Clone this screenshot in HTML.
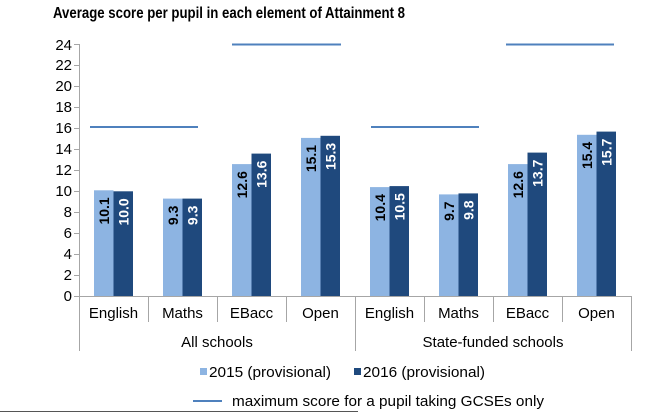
<!DOCTYPE html>
<html><head><meta charset="utf-8"><style>html,body{margin:0;padding:0;background:#fff}svg{display:block}text{font-family:"Liberation Sans",Arial,sans-serif}</style></head>
<body>
<svg width="662" height="413" viewBox="0 0 662 413" xmlns="http://www.w3.org/2000/svg">
<text x="53" y="18" font-size="16" font-weight="bold" fill="#000" textLength="352" lengthAdjust="spacingAndGlyphs">Average score per pupil in each element of Attainment 8</text>
<g font-size="15" fill="#000" text-anchor="end">
<text x="72" y="301">0</text><text x="72" y="280">2</text><text x="72" y="259">4</text><text x="72" y="238">6</text><text x="72" y="217">8</text><text x="72" y="196">10</text><text x="72" y="175">12</text><text x="72" y="154">14</text><text x="72" y="133">16</text><text x="72" y="112">18</text><text x="72" y="91">20</text><text x="72" y="70">22</text><text x="72" y="50">24</text>
</g>
<g stroke="#a6a6a6" stroke-width="1">
<line x1="79.5" y1="44" x2="79.5" y2="351"/>
<line x1="74" y1="296.5" x2="632" y2="296.5"/>
<line x1="74" y1="275.5" x2="79" y2="275.5"/><line x1="74" y1="254.5" x2="79" y2="254.5"/><line x1="74" y1="233.5" x2="79" y2="233.5"/><line x1="74" y1="212.5" x2="79" y2="212.5"/><line x1="74" y1="191.5" x2="79" y2="191.5"/><line x1="74" y1="170.5" x2="79" y2="170.5"/><line x1="74" y1="149.5" x2="79" y2="149.5"/><line x1="74" y1="128.5" x2="79" y2="128.5"/><line x1="74" y1="107.5" x2="79" y2="107.5"/><line x1="74" y1="86.5" x2="79" y2="86.5"/><line x1="74" y1="65.5" x2="79" y2="65.5"/><line x1="74" y1="44.5" x2="79" y2="44.5"/>
<line x1="148.5" y1="296" x2="148.5" y2="322"/><line x1="217.5" y1="296" x2="217.5" y2="322"/><line x1="286.5" y1="296" x2="286.5" y2="322"/>
<line x1="355.5" y1="296" x2="355.5" y2="351"/>
<line x1="424.5" y1="296" x2="424.5" y2="322"/><line x1="493.5" y1="296" x2="493.5" y2="322"/><line x1="562.5" y1="296" x2="562.5" y2="322"/>
<line x1="631.5" y1="296" x2="631.5" y2="351"/>
</g>
<line x1="0" y1="411.5" x2="358" y2="411.5" stroke="#555" stroke-width="1"/>
<g fill="#8db4e2">
<rect x="94" y="190.3" width="19.5" height="105.7"/>
<rect x="163" y="198.6" width="19.5" height="97.4"/>
<rect x="232" y="164.1" width="19.5" height="131.9"/>
<rect x="301" y="137.9" width="19.5" height="158.1"/>
<rect x="370" y="187.1" width="19.5" height="108.9"/>
<rect x="439" y="194.4" width="19.5" height="101.6"/>
<rect x="508" y="164.1" width="19.5" height="131.9"/>
<rect x="577" y="134.8" width="19.5" height="161.2"/>
</g>
<g fill="#1f497d">
<rect x="113.5" y="191.3" width="19.5" height="104.7"/>
<rect x="182.5" y="198.6" width="19.5" height="97.4"/>
<rect x="251.5" y="153.6" width="19.5" height="142.4"/>
<rect x="320.5" y="135.8" width="19.5" height="160.2"/>
<rect x="389.5" y="186.1" width="19.5" height="109.9"/>
<rect x="458.5" y="193.4" width="19.5" height="102.6"/>
<rect x="527.5" y="152.6" width="19.5" height="143.4"/>
<rect x="596.5" y="131.6" width="19.5" height="164.4"/>
</g>
<g font-size="14" font-weight="bold" text-anchor="end" fill="#000">
<text transform="translate(108.75,197.3) rotate(-90)">10.1</text>
<text transform="translate(177.75,205.6) rotate(-90)">9.3</text>
<text transform="translate(246.75,171.1) rotate(-90)">12.6</text>
<text transform="translate(315.75,144.9) rotate(-90)">15.1</text>
<text transform="translate(384.75,194.1) rotate(-90)">10.4</text>
<text transform="translate(453.75,201.4) rotate(-90)">9.7</text>
<text transform="translate(522.75,171.1) rotate(-90)">12.6</text>
<text transform="translate(591.75,141.8) rotate(-90)">15.4</text>
</g>
<g font-size="14" font-weight="bold" text-anchor="end" fill="#fff">
<text transform="translate(128.25,198.3) rotate(-90)">10.0</text>
<text transform="translate(197.25,205.6) rotate(-90)">9.3</text>
<text transform="translate(266.25,160.6) rotate(-90)">13.6</text>
<text transform="translate(335.25,142.8) rotate(-90)">15.3</text>
<text transform="translate(404.25,193.1) rotate(-90)">10.5</text>
<text transform="translate(473.25,200.4) rotate(-90)">9.8</text>
<text transform="translate(542.25,159.6) rotate(-90)">13.7</text>
<text transform="translate(611.25,138.6) rotate(-90)">15.7</text>
</g>
<g stroke="#4f81bd" stroke-width="2">
<line x1="90" y1="127" x2="198" y2="127"/>
<line x1="232" y1="44.5" x2="341" y2="44.5"/>
<line x1="371" y1="127" x2="479" y2="127"/>
<line x1="506" y1="44.5" x2="614" y2="44.5"/>
<line x1="193" y1="401" x2="222" y2="401"/>
</g>
<g font-size="15" fill="#000" text-anchor="middle">
<text x="113.5" y="318">English</text><text x="182.5" y="318">Maths</text><text x="251.5" y="318">EBacc</text><text x="320.5" y="318">Open</text>
<text x="389.5" y="318">English</text><text x="458.5" y="318">Maths</text><text x="527.5" y="318">EBacc</text><text x="596.5" y="318">Open</text>
<text x="217" y="347">All schools</text><text x="493" y="347">State-funded schools</text>
</g>
<rect x="200" y="368" width="7" height="7" fill="#8db4e2"/>
<text x="209" y="377" font-size="15" textLength="122" lengthAdjust="spacingAndGlyphs">2015 (provisional)</text>
<rect x="354" y="368" width="7" height="7" fill="#1f497d"/>
<text x="363" y="377" font-size="15" textLength="122" lengthAdjust="spacingAndGlyphs">2016 (provisional)</text>
<text x="232" y="406" font-size="15" textLength="312" lengthAdjust="spacingAndGlyphs">maximum score for a pupil taking GCSEs only</text>
</svg>
</body></html>
